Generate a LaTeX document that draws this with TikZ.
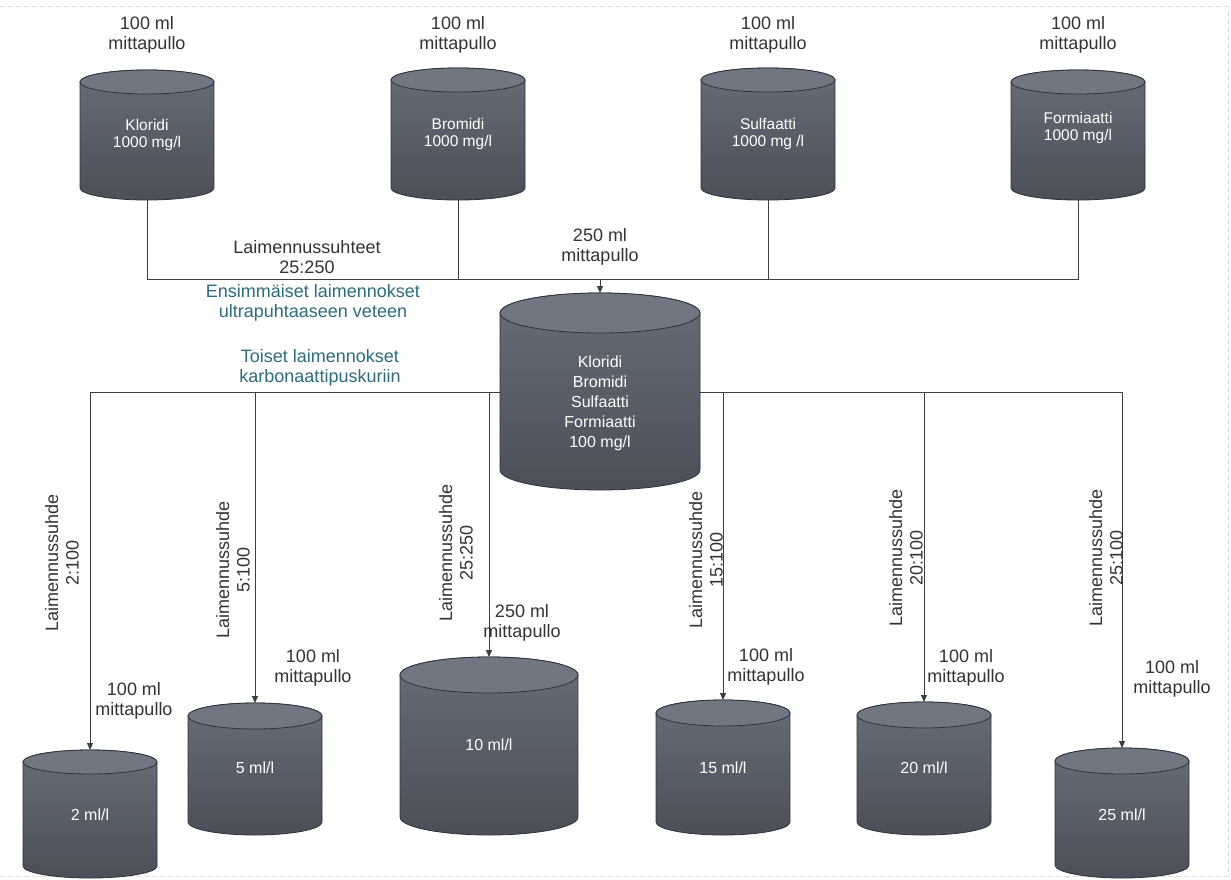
\documentclass[tikz,border=0pt]{standalone}
\usepackage{fontspec}
\setmainfont{Liberation Sans}
\usetikzlibrary{arrows.meta,backgrounds}

\definecolor{bodytop}{HTML}{676D77}
\definecolor{bodybot}{HTML}{4A4F58}
\definecolor{capcol}{HTML}{717782}
\definecolor{rimcol}{HTML}{2E333A}
\definecolor{wirecol}{HTML}{3A3F46}
\definecolor{labcol}{HTML}{333333}
\definecolor{tealcol}{HTML}{2C6C7C}

\tikzset{
  lab/.style={align=center, text=labcol, inner sep=0pt,
              font=\fontsize{18}{20.5}\selectfont},
  teallab/.style={lab, text=tealcol},
  turnlab/.style={lab, rotate=90},
  flasktext/.style={align=center, text=white, inner sep=0pt,
              font=\fontsize{15.5}{17}\selectfont},
  wire/.style={draw=wirecol, line width=1pt},
  feed/.style={wire, -{Triangle[length=7pt,width=6pt]}},
}

% \flask{name}{centre x}{top y}{bottom y}{half width}{rim radius}{text y}{text}
\newcommand\flask[8]{%
  \pgfmathsetmacro\fxl{#2-#5}\pgfmathsetmacro\fxr{#2+#5}%
  \pgfmathsetmacro\fya{#3+#6}\pgfmathsetmacro\fyb{#4-#6}%
  \pgfmathsetmacro\fym{(#3+#4)/2}\pgfmathsetmacro\fh{#4-#3}%
  \pgfmathsetmacro\fw{2*#5}%
  \shadedraw[top color=bodytop, bottom color=bodybot, draw=rimcol, line width=0.8pt]
    (\fxl,\fya) -- (\fxl,\fyb)
    arc[start angle=180, end angle=360, x radius=#5pt, y radius=#6pt]
    -- (\fxr,\fya)
    arc[start angle=0, end angle=180, x radius=#5pt, y radius=#6pt] -- cycle;
  \draw[fill=capcol, draw=rimcol, line width=0.8pt]
    (#2,\fya) ellipse[x radius=#5pt, y radius=#6pt];
  \node[inner sep=0pt, outer sep=0pt, minimum width=\fw pt,
        minimum height=\fh pt] (#1) at (#2,\fym) {};
  \node[flasktext] (#1-text) at (#2,#7) {#8};
}

\begin{document}
\begin{tikzpicture}[x=1pt, y=-1pt]
\useasboundingbox (0,0) rectangle (1231,879);

% stock solutions
\flask{klo}{147}{70}{200}{67}{12}{135}{Kloridi\\1000 mg/l}
\flask{bro}{458}{68}{200}{67}{12}{134}{Bromidi\\1000 mg/l}
\flask{sul}{768}{68}{200}{67}{12}{134}{Sulfaatti\\1000 mg /l}
\flask{for}{1078}{70}{200}{67}{12}{128}{Formiaatti\\1000 mg/l}

\node[lab] (klo-vol) at (147,35) {100 ml\\mittapullo};
\node[lab] (bro-vol) at (458,35) {100 ml\\mittapullo};
\node[lab] (sul-vol) at (768,35) {100 ml\\mittapullo};
\node[lab] (for-vol) at (1078,35) {100 ml\\mittapullo};

% mixed intermediate
\begin{scope}[flasktext/.style={align=center, text=white, inner sep=0pt,
              font=\fontsize{16}{20}\selectfont}]
\flask{mix}{600}{293}{490}{100}{20}{403}{Kloridi\\Bromidi\\Sulfaatti\\Formiaatti\\100 mg/l}
\end{scope}

\node[lab] (mix-vol) at (600,247) {250 ml\\mittapullo};
\node[lab] (ratio1) at (307,257) {Laimennussuhteet\\25:250};
\node[teallab] (step1) at (313,303) {Ensimmäiset laimennokset\\ultrapuhtaaseen veteen};
\node[teallab] (step2) at (320,368) {Toiset laimennokset\\karbonaattipuskuriin};

% working standards
\begin{scope}[flasktext/.style={align=center, text=white, inner sep=0pt,
              font=\fontsize{16}{18}\selectfont}]
\flask{c2}{90}{750}{878}{67}{12}{815}{2 ml/l}
\flask{c5}{255}{703}{835}{67}{13}{768}{5 ml/l}
\flask{c10}{489}{657}{835}{89}{18}{745}{10 ml/l}
\flask{c15}{723}{700}{835}{67}{13}{768}{15 ml/l}
\flask{c20}{924}{702}{835}{67}{13}{768}{20 ml/l}
\flask{c25}{1122}{748}{878}{67}{13}{815}{25 ml/l}
\end{scope}

\node[lab] (c2-vol) at (134,701) {100 ml\\mittapullo};
\node[lab] (c5-vol) at (313,668) {100 ml\\mittapullo};
\node[lab] (c10-vol) at (522,623) {250 ml\\mittapullo};
\node[lab] (c15-vol) at (766,667) {100 ml\\mittapullo};
\node[lab] (c20-vol) at (966,668) {100 ml\\mittapullo};
\node[lab] (c25-vol) at (1172,679) {100 ml\\mittapullo};

\node[turnlab] (c2-ratio) at (62,563) {Laimennussuhde\\2:100};
\node[turnlab] (c5-ratio) at (233,570) {Laimennussuhde\\5:100};
\node[turnlab] (c10-ratio) at (456,553) {Laimennussuhde\\25:250};
\node[turnlab] (c15-ratio) at (706,560) {Laimennussuhde\\15:100};
\node[turnlab] (c20-ratio) at (906,558) {Laimennussuhde\\20:100};
\node[turnlab] (c25-ratio) at (1106,558) {Laimennussuhde\\25:100};

% connectors and page frame, kept behind the flasks
\coordinate (merge) at (600,279);
\coordinate (split) at (600,392);
\begin{pgfonlayer}{background}
  \fill[white] (0,0) rectangle (1231,879);
  \draw[black!12, line width=0.6pt, dash pattern=on 6pt off 2pt]
    (0,6) -- (1228,6) -- (1228,876) -- (0,876);
  \draw[wire] (klo.south) |- (merge);
  \draw[wire] (bro.south) |- (merge);
  \draw[wire] (sul.south) |- (merge);
  \draw[wire] (for.south) |- (merge);
  \draw[feed] (merge) -- (mix.north);
  \draw[feed] (split) -| (c2.north);
  \draw[feed] (split) -| (c5.north);
  \draw[feed] (split) -| (c10.north);
  \draw[feed] (split) -| (c15.north);
  \draw[feed] (split) -| (c20.north);
  \draw[feed] (split) -| (c25.north);
\end{pgfonlayer}
\end{tikzpicture}
\end{document}
